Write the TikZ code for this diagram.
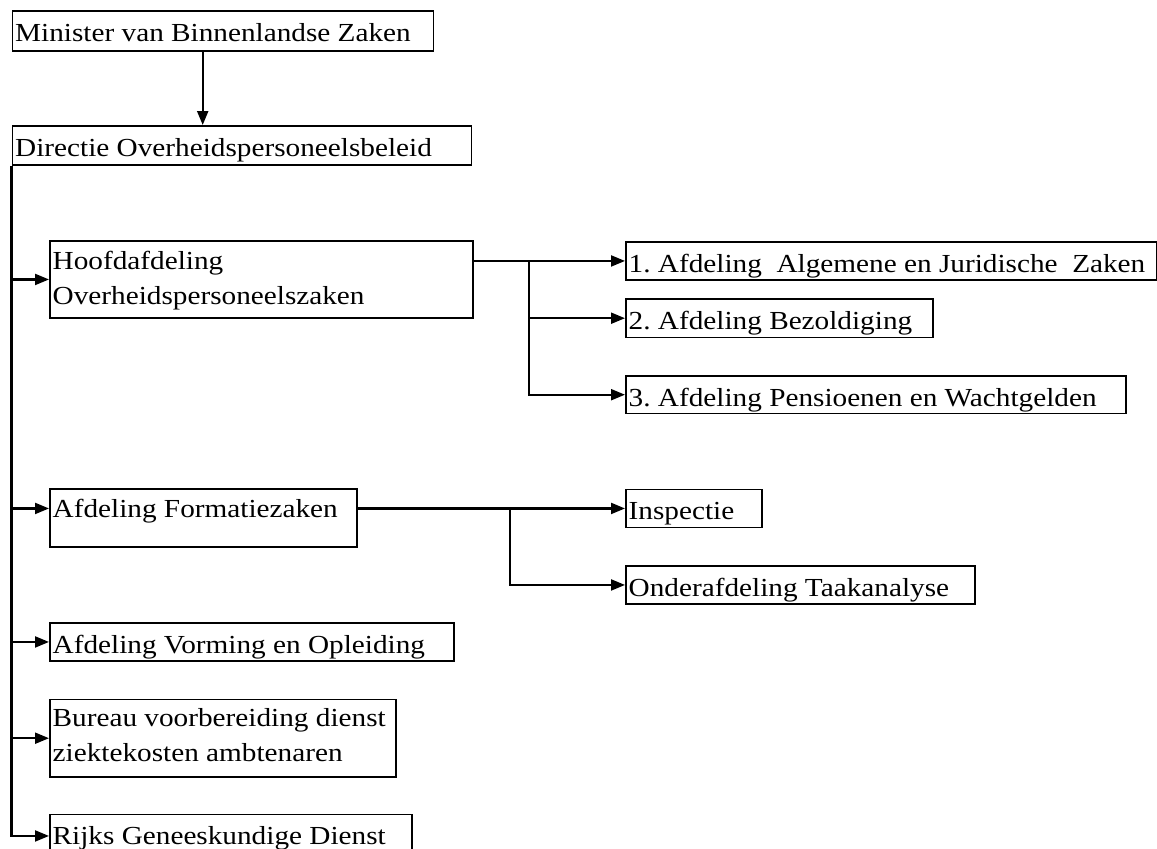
\documentclass[tikz,border=0pt]{standalone}
\usepackage{fontspec}
\setmainfont{Liberation Serif}[FakeStretch=1.125]
\usetikzlibrary{arrows.meta}
\frenchspacing
\begin{document}
\begin{tikzpicture}[x=1pt,y=-1pt,
  box/.style={draw, line width=1.9pt, inner sep=0pt, anchor=north west},
  txt/.style={inner sep=0pt, anchor=base west, font=\fontsize{26}{35}\selectfont},
  arr/.style={line width=2.1pt, -{Triangle[length=14pt,width=11pt]}},
  ln/.style={line width=2.1pt}]
\useasboundingbox (0,0) rectangle (1157,849);
\clip (0,0) rectangle (1157,849);
% boxes
\node[box, minimum width=421pt, minimum height=40pt] (min) at (11.5,10) {};
\node[box, minimum width=459pt, minimum height=39pt] (dir) at (11.5,125) {};
\node[box, minimum width=423pt, minimum height=77pt] (hoofd) at (49,240) {};
\node[box, minimum width=531pt, minimum height=38pt] (a1) at (625,241) {};
\node[box, minimum width=307pt, minimum height=38.5pt] (a2) at (625,298) {};
\node[box, minimum width=500pt, minimum height=37.5pt] (a3) at (625,375) {};
\node[box, minimum width=307pt, minimum height=58pt] (form) at (49,488) {};
\node[box, minimum width=136pt, minimum height=38pt] (insp) at (625,488.5) {};
\node[box, minimum width=349pt, minimum height=38pt] (onder) at (625,565) {};
\node[box, minimum width=404pt, minimum height=38pt] (vorm) at (49,622) {};
\node[box, minimum width=346pt, minimum height=77.5pt] (bur) at (49,698.5) {};
\node[box, minimum width=362pt, minimum height=43pt] (rijks) at (49,813.5) {};
% texts
\node[txt] (tmin) at ([xshift=3.5pt,yshift=-31.7pt]min.north west) {Minister van Binnenlandse Zaken};
\node[txt] (tdir) at ([xshift=3.5pt,yshift=-31.7pt]dir.north west) {Directie Overheidspersoneelsbeleid};
\node[txt] (thoofda) at ([xshift=3.5pt,yshift=-29pt]hoofd.north west) {Hoofdafdeling};
\node[txt] (thoofdb) at ([xshift=3.5pt,yshift=-64pt]hoofd.north west) {Overheidspersoneelszaken};
\node[txt] (ta1) at ([xshift=3.5pt,yshift=-31pt]a1.north west) {1. Afdeling\ \ Algemene en Juridische\ \ Zaken};
\node[txt] (ta2) at ([xshift=3.5pt,yshift=-31pt]a2.north west) {2. Afdeling Bezoldiging};
\node[txt] (ta3) at ([xshift=3.5pt,yshift=-31pt]a3.north west) {3. Afdeling Pensioenen en Wachtgelden};
\node[txt] (tform) at ([xshift=3.5pt,yshift=-29pt]form.north west) {Afdeling Formatiezaken};
\node[txt] (tinsp) at ([xshift=3.5pt,yshift=-31pt]insp.north west) {Inspectie};
\node[txt] (tonder) at ([xshift=3.5pt,yshift=-31pt]onder.north west) {Onderafdeling Taakanalyse};
\node[txt] (tvorm) at ([xshift=3.5pt,yshift=-31pt]vorm.north west) {Afdeling Vorming en Opleiding};
\node[txt] (tbura) at ([xshift=3.5pt,yshift=-28.4pt]bur.north west) {Bureau voorbereiding dienst};
\node[txt] (tburb) at ([xshift=3.5pt,yshift=-63.4pt]bur.north west) {ziektekosten ambtenaren};
\node[txt] (trijks) at ([xshift=3.5pt,yshift=-31pt]rijks.north west) {Rijks Geneeskundige Dienst};
% connectors
\coordinate (ma) at (202.7,0);
\coordinate (hb) at (529.3,0);
\coordinate (fb) at (510.3,0);
\draw[arr] (ma |- min.south) -- (ma |- dir.north);
\draw[arr] (dir.south west) |- (rijks.west);
\draw[arr] (dir.south west |- hoofd.west) -- (hoofd.west);
\draw[arr] (dir.south west |- insp.west) -- (form.west |- insp.west);
\draw[arr] (dir.south west |- vorm.west) -- (vorm.west);
\draw[arr] (dir.south west |- bur.west) -- (bur.west);
\draw[arr] (hoofd.east |- a1.west) -- (a1.west);
\draw[arr] (hb |- a1.west) |- (a3.west);
\draw[arr] (hb |- a2.west) -- (a2.west);
\draw[arr] (form.east |- insp.west) -- (insp.west);
\draw[arr] (fb |- insp.west) |- (onder.west);
\end{tikzpicture}
\end{document}
